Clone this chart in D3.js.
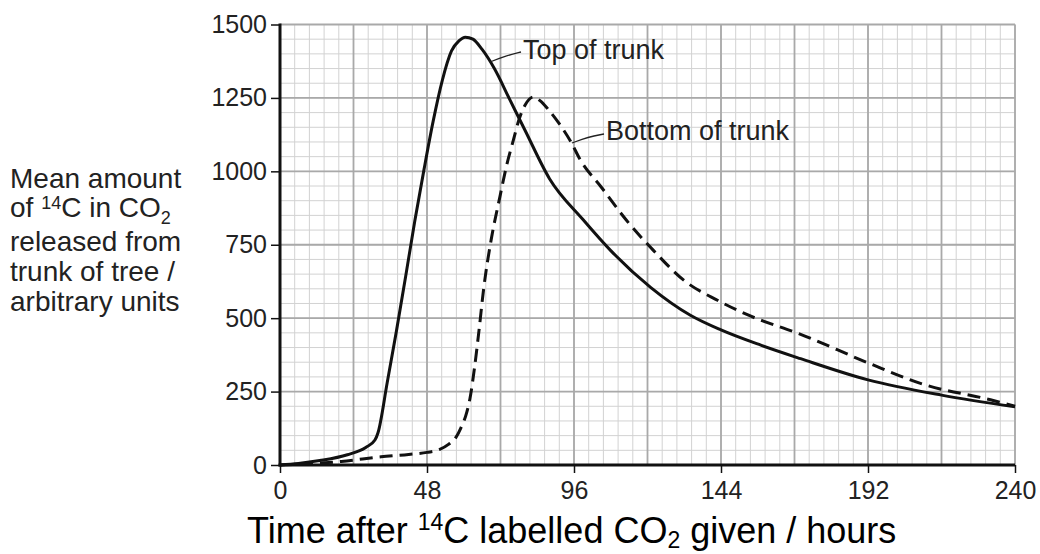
<!DOCTYPE html>
<html>
<head>
<meta charset="utf-8">
<script src="https://cdn.jsdelivr.net/npm/d3@7"></script>
<style>
  html, body { margin: 0; padding: 0; background: #fff; }
  svg { display: block; font-family: "Liberation Sans", Arial, sans-serif; }
</style>
</head>
<body>
<div class="main"></div>
<script>
// data
const topHours = [0, 6, 13, 22, 28, 31, 32, 35, 38, 41, 44, 47, 50, 53, 56, 58.5, 60.5, 63, 66, 70, 75, 80, 88, 99, 108, 121, 134, 144, 157, 170, 192, 216, 240];
const topValues = [0, 5, 15, 35, 60, 85, 110, 280, 455, 640, 830, 1005, 1170, 1310, 1410, 1445, 1457, 1450, 1415, 1350, 1245, 1140, 975, 835, 730, 605, 510, 460, 408, 362, 290, 238, 198];
const bottomHours = [0, 10, 20, 33, 42, 48, 52, 55, 57.5, 59, 61, 62, 63.5, 65, 66.5, 69, 71.8, 74, 76.2, 78, 80, 82.7, 85, 87.5, 91, 95, 98, 105, 113, 122, 132, 143, 153, 170, 192, 210, 232, 240];
const bottomValues = [0, 5, 12, 28, 36, 43, 52, 70, 95, 125, 180, 225, 330, 460, 600, 770, 913, 1020, 1106, 1175, 1225, 1253, 1240, 1212, 1165, 1100, 1040, 945, 835, 730, 628, 560, 510, 445, 348, 275, 222, 200];
const xTicks = [0, 48, 96, 144, 192, 240];
const yTicks = [0, 250, 500, 750, 1000, 1250, 1500];

const w = 1040;
const h = 554;
const padLeft = 280, padRight = 1015, padTop = 24.5, padBottom = 465;

const xScale = d3.scaleLinear().domain([0, 240]).range([padLeft, padRight]);
const yScale = d3.scaleLinear().domain([0, 1500]).range([padBottom, padTop]);

const svg = d3.select(".main")
  .append("svg")
  .attr("width", w)
  .attr("height", h);

svg.append("rect").attr("width", w).attr("height", h).attr("fill", "#fff");

//grid
const grid = svg.append("g").attr("class", "grid");
const minorX = d3.range(0, 240.01, 4.8);
const minorY = d3.range(0, 1500.01, 50);
const majorX = d3.range(0, 240.01, 24);

grid.selectAll(".vminor").data(minorX).enter().append("line")
  .attr("x1", d => xScale(d)).attr("x2", d => xScale(d))
  .attr("y1", padTop).attr("y2", padBottom)
  .attr("stroke", "#d2d2d2").attr("stroke-width", 1);
grid.selectAll(".hminor").data(minorY).enter().append("line")
  .attr("x1", padLeft).attr("x2", padRight)
  .attr("y1", d => yScale(d)).attr("y2", d => yScale(d))
  .attr("stroke", "#d2d2d2").attr("stroke-width", 1);
grid.selectAll(".vmajor").data(majorX).enter().append("line")
  .attr("x1", d => xScale(d)).attr("x2", d => xScale(d))
  .attr("y1", padTop).attr("y2", padBottom)
  .attr("stroke", "#a9a9a9").attr("stroke-width", 1.8);
grid.selectAll(".hmajor").data(yTicks).enter().append("line")
  .attr("x1", padLeft).attr("x2", padRight)
  .attr("y1", d => yScale(d)).attr("y2", d => yScale(d))
  .attr("stroke", "#a9a9a9").attr("stroke-width", 1.8);

//axes
const yAxis = d3.axisLeft(yScale).tickValues(yTicks).tickFormat(d3.format("d")).tickSize(9).tickPadding(4).tickSizeOuter(0);
const xAxis = d3.axisBottom(xScale).tickValues(xTicks).tickFormat(d3.format("d")).tickSize(8).tickPadding(8).tickSizeOuter(0);

const gy = svg.append("g").attr("transform", "translate(" + padLeft + ",0)").call(yAxis);
const gx = svg.append("g").attr("transform", "translate(0," + padBottom + ")").call(xAxis);

[gx, gy].forEach(g => {
  g.select(".domain").attr("stroke", "#111").attr("stroke-width", 3);
  g.selectAll(".tick line").attr("stroke", "#111").attr("stroke-width", 1.5);
  g.selectAll(".tick text")
    .attr("fill", "#222")
    .style("font-family", "'Liberation Sans', Arial, sans-serif")
    .style("font-size", "25px");
});
gy.select(".domain").attr("d", "M0," + (padTop - 1) + "V" + (padBottom + 1.5));
gx.select(".domain").attr("d", "M" + (padLeft - 1.5) + ",0H" + padRight);

//curves
const line = d3.line()
  .x(d => xScale(d[0]))
  .y(d => yScale(d[1]))
  .curve(d3.curveMonotoneX);

svg.append("path")
  .datum(topHours.map((d, i) => [d, topValues[i]]))
  .attr("d", line)
  .attr("fill", "none")
  .attr("stroke", "#111")
  .attr("stroke-width", 3);

svg.append("path")
  .datum(bottomHours.map((d, i) => [d, bottomValues[i]]))
  .attr("d", line)
  .attr("fill", "none")
  .attr("stroke", "#111")
  .attr("stroke-width", 3)
  .attr("stroke-dasharray", "13,7");

//labels on the lines
const leader = d3.line().curve(d3.curveBasis);
svg.append("path")
  .attr("d", leader([[490, 62], [505, 56], [521, 52]]))
  .attr("fill", "none").attr("stroke", "#222").attr("stroke-width", 1.3);
svg.append("text")
  .attr("x", 523).attr("y", 59)
  .attr("fill", "#222").style("font-size", "27px")
  .text("Top of trunk");

svg.append("path")
  .attr("d", leader([[572, 143], [588, 137], [604, 134]]))
  .attr("fill", "none").attr("stroke", "#222").attr("stroke-width", 1.3);
svg.append("text")
  .attr("x", 606).attr("y", 140)
  .attr("fill", "#222").style("font-size", "27px")
  .text("Bottom of trunk");

//y title, one text per line
function yLine(y) {
  return svg.append("text")
    .attr("x", 10).attr("y", y)
    .attr("fill", "#222")
    .style("font-size", "28px");
}
yLine(188).text("Mean amount");
const l2 = yLine(217);
l2.append("tspan").text("of ");
l2.append("tspan").text("14").attr("dy", -8).style("font-size", "18px");
l2.append("tspan").text("C in CO").attr("dy", 8);
l2.append("tspan").text("2").attr("dy", 7).style("font-size", "18px");
yLine(251).text("released from");
yLine(281).text("trunk of tree /");
yLine(311).text("arbitrary units");

//x title
const xt = svg.append("text")
  .attr("x", 247).attr("y", 543)
  .attr("fill", "#000")
  .style("font-size", "36px");
xt.append("tspan").text("Time after ");
xt.append("tspan").text("14").attr("dy", -13).style("font-size", "23px");
xt.append("tspan").text("C labelled CO").attr("dy", 13);
xt.append("tspan").text("2").attr("dy", 5).style("font-size", "23px");
xt.append("tspan").text(" given / hours").attr("dy", -5);
</script>
</body>
</html>
